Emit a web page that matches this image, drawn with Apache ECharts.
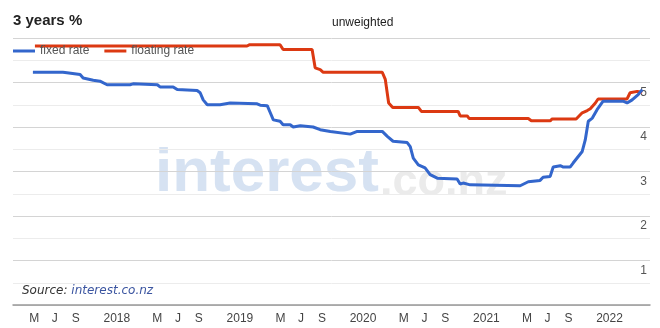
<!DOCTYPE html>
<html>
<head>
<meta charset="utf-8">
<script src="https://cdn.jsdelivr.net/npm/echarts@6/dist/echarts.min.js"></script>
<style>
html,body{margin:0;padding:0;background:#fff;}
#chart{width:660px;height:328px;}
</style>
</head>
<body>
<div id="chart"></div>
<script>
// ---- data ----
const fixedDates = ['2017-04-27','2017-07-25','2017-08-06','2017-09-14','2017-09-23','2017-10-23','2017-11-12','2017-12-03','2018-02-09','2018-02-18','2018-05-01','2018-05-09','2018-06-17','2018-06-29','2018-08-27','2018-09-05','2018-09-14','2018-09-26','2018-11-03','2018-12-03','2019-02-21','2019-03-02','2019-03-23','2019-04-01','2019-04-10','2019-04-30','2019-05-09','2019-05-30','2019-06-08','2019-06-29','2019-08-06','2019-08-27','2019-09-26','2019-11-24','2019-12-15','2020-02-27','2020-03-13','2020-03-30','2020-05-11','2020-05-20','2020-05-29','2020-06-13','2020-07-03','2020-07-18','2020-08-08','2020-10-06','2020-10-15','2020-10-24','2020-11-14','2021-04-11','2021-05-05','2021-06-09','2021-06-18','2021-07-09','2021-07-18','2021-08-08','2021-08-17','2021-09-06','2021-09-15','2021-10-12','2021-10-21','2021-10-30','2021-11-11','2021-11-25','2021-12-13','2022-02-10','2022-02-22','2022-03-09','2022-03-27','2022-04-08'];
const fixedValues = [5.23,5.23,5.22,5.18,5.10,5.05,5.03,4.95,4.95,4.97,4.95,4.90,4.90,4.84,4.82,4.77,4.61,4.50,4.50,4.54,4.52,4.49,4.48,4.32,4.16,4.13,4.05,4.05,4.00,4.03,4.00,3.94,3.90,3.84,3.90,3.90,3.79,3.68,3.65,3.56,3.30,3.15,3.08,2.93,2.85,2.83,2.72,2.74,2.70,2.68,2.77,2.80,2.87,2.89,3.10,3.13,3.10,3.10,3.19,3.45,3.71,4.13,4.20,4.39,4.58,4.58,4.54,4.61,4.73,4.84];

const floatDates = ['2017-05-03','2017-12-27','2019-01-22','2019-01-30','2019-04-30','2019-05-09','2019-08-03','2019-08-12','2019-08-27','2019-09-05','2020-02-27','2020-03-07','2020-03-17','2020-03-29','2020-06-13','2020-06-22','2020-10-09','2020-10-15','2020-11-05','2020-11-11','2021-05-05','2021-05-14','2021-07-09','2021-07-15','2021-09-24','2021-10-12','2021-10-27','2021-11-05','2021-11-20','2021-11-28','2022-02-22','2022-03-03','2022-03-24','2022-04-08'];
const floatValues = [5.82,5.82,5.82,5.85,5.85,5.74,5.74,5.33,5.29,5.23,5.23,5.07,4.54,4.44,4.44,4.35,4.35,4.25,4.25,4.19,4.19,4.14,4.14,4.18,4.18,4.32,4.37,4.41,4.54,4.63,4.63,4.77,4.80,4.78];

const xTickDates = ['2017-05-01','2017-07-01','2017-09-01','2018-01-01','2018-05-01','2018-07-01','2018-09-01','2019-01-01','2019-05-01','2019-07-01','2019-09-01','2020-01-01','2020-05-01','2020-07-01','2020-09-01','2021-01-01','2021-05-01','2021-07-01','2021-09-01','2022-01-01'];
const xTickLabels = ['M','J','S','2018','M','J','S','2019','M','J','S','2020','M','J','S','2021','M','J','S','2022'];
const yTickLabels = ['1','2','3','4','5'];

const seriesNames = ['fixed rate','floating rate'];

// ---- build ----
const ts = d => Date.UTC(+d.slice(0, 4), +d.slice(5, 7) - 1, +d.slice(8, 10));
const xTickTs = xTickDates.map(ts);
const fixedData = fixedDates.map((d, i) => [ts(d), fixedValues[i]]);
const floatData = floatDates.map((d, i) => [ts(d), floatValues[i]]);

const chart = echarts.init(document.getElementById('chart'), null, {renderer: 'canvas'});
chart.setOption({
  animation: false,
  backgroundColor: '#ffffff',
  textStyle: {fontFamily: 'Arial, "Liberation Sans", sans-serif'},
  title: [
    {text: '3 years %', left: 8, top: 8, textStyle: {fontSize: 15, fontWeight: 'bold', color: '#222', fontFamily: 'Arial, "Liberation Sans", sans-serif'}},
    {text: 'unweighted', left: 327, top: 12, textStyle: {fontSize: 12, fontWeight: 'normal', color: '#222', fontFamily: 'Arial, "Liberation Sans", sans-serif'}}
  ],
  legend: {
    data: seriesNames,
    icon: 'rect',
    left: 13, top: 45,
    itemWidth: 22, itemHeight: 3, itemGap: 15,
    padding: 0,
    textStyle: {color: '#555', fontSize: 12}
  },
  grid: {left: 13, right: 10, top: 38, bottom: 23, containLabel: false},
  xAxis: {
    type: 'value',
    min: ts('2017-02-27'),
    max: ts('2022-05-01'),
    axisLine: {show: true, onZero: false, lineStyle: {color: '#999', width: 1.5}},
    axisTick: {show: false},
    splitLine: {show: false},
    axisLabel: {
      customValues: xTickTs,
      color: '#444', fontSize: 12, margin: 8,
      showMinLabel: true, showMaxLabel: true,
      formatter: function (v) {
        let best = 0, bd = Infinity;
        xTickTs.forEach((t, i) => { const d = Math.abs(t - v); if (d < bd) { bd = d; best = i; } });
        return xTickLabels[best];
      }
    }
  },
  yAxis: {
    type: 'value', min: 0, max: 6, interval: 1,
    position: 'right',
    axisLine: {show: false},
    axisTick: {show: false},
    axisLabel: {
      inside: true, margin: 3, color: '#555', fontSize: 12,
      verticalAlign: 'top', padding: [4, 0, 0, 0],
      formatter: function (v) { const s = String(v); return yTickLabels.indexOf(s) >= 0 ? s : ''; }
    },
    splitLine: {lineStyle: {color: '#d4d4d4', width: 1}},
    minorTick: {show: false, splitNumber: 2},
    minorSplitLine: {show: true, lineStyle: {color: '#ececec', width: 1}}
  },
  graphic: [
    {type: 'text', left: 155, top: 143, z: -10, silent: true,
      style: {text: 'interest', fill: '#d6e2f2', font: 'bold 62px "Liberation Sans", Arial, sans-serif'}},
    {type: 'text', left: 380, top: 160, z: -10, silent: true,
      style: {text: '.co.nz', fill: '#ebebeb', font: 'bold 45px "Liberation Sans", Arial, sans-serif'}},
    {type: 'text', left: 22, top: 285, z: 10, silent: true,
      style: {
        text: '{a|Source: }{b|interest.co.nz}',
        rich: {
          a: {fill: '#333', font: 'italic 12px "DejaVu Sans", Verdana, sans-serif'},
          b: {fill: '#3b55a0', font: 'italic 12px "DejaVu Sans", Verdana, sans-serif'}
        }
      }}
  ],
  series: [
    {name: seriesNames[0], type: 'line', data: fixedData, symbol: 'none', showSymbol: false,
      lineStyle: {color: '#3366cc', width: 3}, itemStyle: {color: '#3366cc'}, z: 3},
    {name: seriesNames[1], type: 'line', data: floatData, symbol: 'none', showSymbol: false,
      lineStyle: {color: '#dc3912', width: 3}, itemStyle: {color: '#dc3912'}, z: 2}
  ]
});
</script>
</body>
</html>
